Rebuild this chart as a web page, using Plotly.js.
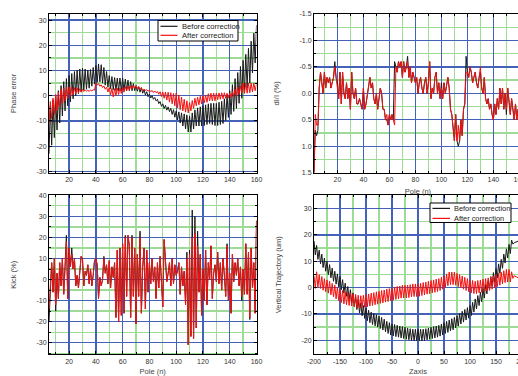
<!DOCTYPE html>
<html><head><meta charset="utf-8">
<script src="https://cdn.plot.ly/plotly-3.0.1.min.js"></script>
<style>html,body{margin:0;padding:0;overflow:hidden;background:#fff}#chart{width:530px;height:376px}</style>
</head><body><div id="chart"></div>
<script>
// ---------- DATA ----------
// Phase error per pole (poles 5..160)
const phasePoleStart = 5;
const phaseBefore = [
-23,-3.9,-19.6,-1.8,-16.6,0,-13.6,2.0,-10.8,4.0,
-8.0,5.6,-6.0,6.8,-4.0,8.0,-2.4,8.8,-1.2,9.6,
0,10.2,0.8,10.6,1.6,11.0,2.2,10.6,2.6,10.2,
3.0,10.4,3.8,11.2,4.6,12.0,5.3,12.6,5.5,12.3,
5.0,11.2,4.2,9.6,3.4,8.0,2.8,7.6,2.4,7.2,
2.0,7.0,2.0,7.0,2.0,7.0,2.0,6.6,2.0,6.2,
2.0,5.6,2.0,4.8,2.0,4.0,1.8,3.6,1.4,3.2,
1.0,2.5,0.3,1.6,-0.4,0.7,-0.9,0.0,-1.4,-0.7,
-2.0,-1.4,-3.1,-2.3,-4.2,-3.2,-5.1,-3.8,-5.7,-4.4,
-6.3,-5.0,-7.4,-5.5,-8.5,-6.0,-9.6,-6.4,-10.8,-6.8,
-12.0,-7.2,-13.2,-7.6,-14.4,-8.0,-14.4,-6.8,-13.2,-5.6,
-12.0,-4.8,-12.0,-4.4,-12.0,-4.0,-11.8,-3.6,-11.4,-3.2,
-11.0,-3.0,-11.4,-3.0,-11.8,-3.0,-11.8,-2.6,-11.4,-2.2,
-11.0,-1.2,-9.8,0.4,-8.6,2.0,-7.4,4.4,-6.2,6.8,
-5.0,9.2,-3.0,11.6,-1.0,14.0,1.0,16.4,3.0,18.8,
5.0,21.6,9.0,24.8,13.0,28.0
];
const phaseAfter = [
-11,-2.3,-9.2,-0.9,-7.4,0.5,-5.8,1.5,-4.4,2.5,
-3.0,3.1,-2.0,3.3,-1.0,3.5,-0.2,3.3,0.4,3.2,
0.8,3.1,1.1,2.8,1.4,2.5,1.7,2.3,1.8,2.2,
1.7,2.3,1.9,2.4,2.2,5.0,4.2,4.8,3.8,4.3,
3.2,3.9,2.6,3.4,1.5,3.2,0.4,2.9,-0.5,2.8,
0.0,3.0,0.5,3.1,0.9,3.2,1.4,3.6,2.0,3.9,
2.2,3.9,2.8,4.0,3.0,4.0,2.9,3.6,2.4,3.2,
2.0,2.6,2.1,2.4,1.8,2.3,1.6,2.1,1.3,1.9,
1.2,1.7,0.6,1.6,-0.3,1.5,-1.0,1.5,-1.7,1.4,
-2.5,1.2,-3.2,0.9,-4.0,1.0,-4.8,0.2,-5.5,-0.5,
-6.0,-1.4,-6.5,-2.0,-6.8,-2.7,-6.0,-1.9,-5.0,-1.0,
-4.0,-0.6,-3.6,-0.2,-3.2,0.0,-2.8,0.2,-2.6,0.8,
-2.0,1.0,-2.0,1.0,-2.0,1.0,-1.6,1.1,-1.4,1.2,
-1.2,1.2,-1.0,1.0,-0.8,1.0,-0.6,1.6,-0.3,2.6,
0.0,3.4,0.6,4.0,1.0,5.0,1.0,5.0,1.0,5.0,
1.2,5.0,1.5,5.0,2.0,4.5
];

// dI/I (%) per pole (poles 2..161)
const dIPoleStart = 2;
const dIBefore = [
1.5,0.7,0.8,0.7,-0.1,-0.4,-0.2,0.0,-0.4,-0.1,
-0.3,-0.2,-0.3,-0.1,-0.2,-0.3,-0.6,-0.3,-0.2,0.1,
-0.4,0.2,-0.4,0.0,0.1,-0.2,0.1,-0.1,0.3,-0.4,
0.0,0.1,-0.1,0.2,0.2,0.1,0.2,0.3,-0.1,0.3,
0.2,0.0,-0.1,-0.3,-0.1,-0.2,0.1,0.2,0.0,0.3,
0.1,-0.1,0.0,0.3,0.3,0.5,0.5,0.6,0.4,0.5,
0.4,0.5,-0.6,-0.5,-0.4,-0.6,-0.5,-0.6,-0.3,-0.6,
-0.4,-0.5,-0.7,-0.3,-0.5,-0.2,-0.4,-0.3,-0.2,-0.3,
0.0,-0.2,-0.3,-0.1,0.0,-0.2,-0.3,0.0,-0.2,-0.6,
0.1,-0.1,0.0,-0.3,-0.4,0.0,-0.2,0.1,-0.2,0.1,
-0.2,0.0,-0.2,-0.3,-0.1,0.3,0.4,0.6,0.9,0.4,
0.9,1.0,0.9,0.5,0.8,0.3,0.2,-0.7,-0.4,-0.3,
-0.5,-0.4,-0.2,-0.3,-0.4,-0.2,-0.1,-0.3,-0.4,-0.1,
0.0,-0.3,0.1,0.2,0.1,0.3,0.2,0.4,0.5,0.2,
0.4,0.1,0.3,-0.1,0.2,-0.1,0.3,0.0,0.4,-0.1,
0.2,0.4,0.1,0.3,0.5,0.2,0.5,0.3,0.6,0.4
];
const dIAfter = [
1.5,0.4,0.6,0.6,-0.1,-0.4,-0.2,0.0,-0.4,-0.1,
-0.3,-0.2,-0.3,-0.1,-0.2,-0.3,-0.5,-0.3,-0.2,0.1,
-0.4,0.2,-0.4,0.0,0.1,-0.2,0.1,-0.1,0.3,-0.4,
0.0,0.1,-0.1,0.2,0.2,0.1,0.2,0.3,-0.1,0.3,
0.2,0.0,-0.1,-0.3,-0.1,-0.2,0.1,0.2,0.0,0.3,
0.1,-0.1,0.0,0.3,0.3,0.5,0.4,0.6,0.4,0.5,
0.4,0.5,0.6,-0.5,-0.4,-0.6,-0.5,-0.6,-0.3,-0.6,
-0.4,-0.5,-0.6,-0.3,-0.5,-0.2,-0.4,-0.3,-0.2,-0.3,
0.0,-0.2,-0.3,-0.1,0.0,-0.2,-0.3,0.0,-0.2,-0.6,
0.1,-0.1,0.0,-0.3,-0.4,0.0,-0.2,0.1,-0.1,0.1,
-0.2,0.0,-0.2,-0.3,-0.1,0.3,0.4,0.6,0.9,0.4,
0.9,0.6,0.9,0.5,0.8,0.3,0.2,-0.4,-0.4,-0.3,
-0.5,-0.4,-0.2,-0.3,-0.4,-0.2,-0.1,-0.3,-0.5,-0.1,
0.0,-0.3,0.1,0.2,0.1,0.3,0.2,0.4,0.5,0.2,
0.4,0.1,0.3,-0.1,0.2,-0.1,0.3,0.0,0.3,-0.1,
0.2,0.4,0.1,0.3,0.5,0.2,0.5,0.3,0.5,0.4
];

// Kick (%) per pole (poles 5..160)
const kickPoleStart = 5;
const kickBefore = [
-20,-5,8,-6,10,-15,3,-9,8,-3,
10,-7,4,21,-9,15,6,15,5,10,
-3,2,-4,6,11,10,-3,4,2,7,
-2,5,-3,2,9,10,7,-9,1,-3,
0,11,3,7,-2,9,-4,6,1,8,
-18,14,-20,15,-17,17,-16,21,-8,21,
16,-18,21,-8,15,-21,12,-8,23,-16,
6,15,-14,14,-6,8,-2,10,-1,6,
-9,8,-4,11,1,-13,19,7,-1,3,
8,-3,10,-2,7,2,4,8,-7,6,
-3,4,-12,13,-31,14,-27,33,-28,30,
-23,23,-6,12,-17,5,-10,14,-12,8,
0,16,-9,3,7,-1,13,-2,8,-5,
10,2,-8,17,-10,3,-16,12,-1,8,
2,10,-3,6,-10,5,-7,17,-7,13,
-19,15,-4,8,-16,28
];
const kickAfter = [
-14,-5,8,-6,10,-12,3,-9,8,-3,
10,-7,4,18,-9,15,6,12,5,10,
-3,2,-4,6,11,10,-3,4,2,7,
-2,5,-3,2,9,10,7,-9,1,-3,
0,10,3,7,-2,9,-4,6,1,8,
-18,14,-20,15,-17,17,-16,20,-8,21,
16,-18,20,-8,15,-21,12,-8,20,-16,
6,15,-14,14,-6,8,-2,10,-1,6,
-9,8,-4,11,1,-13,19,7,-1,3,
8,-3,10,-2,7,2,4,8,-7,6,
-3,4,-12,10,-31,12,-27,20,-28,22,
-23,16,-6,12,-17,5,-10,14,-12,8,
0,16,-9,3,7,-1,13,-2,8,-5,
10,2,-8,16,-10,3,-16,12,-1,8,
2,10,-3,6,-8,5,-7,17,-7,13,
-18,15,-4,8,-16,28
];

// Vertical trajectory (um) vs z (z = -200 .. 200, step 2.5)
const zStart = -200, zStep = 2.5;
const trajBefore = [
17.7,12.4,16.0,10.7,14.2,9.0,12.7,7.6,11.2,6.2,
10.0,4.9,8.7,3.7,7.4,2.4,6.2,1.3,5.2,0.3,
4.2,-0.8,3.0,-2.1,1.7,-3.3,0.4,-4.6,-0.8,-5.8,
-2.0,-7.1,-3.3,-8.3,-4.6,-9.6,-5.8,-10.7,-6.8,-11.7,
-7.8,-12.6,-8.6,-13.3,-9.3,-14.0,-9.8,-14.5,-10.3,-15.0,
-10.8,-15.5,-11.3,-16.1,-12.0,-16.8,-12.8,-17.4,-13.3,-18.0,
-13.8,-18.3,-14.0,-18.6,-14.3,-18.8,-14.6,-19.1,-14.8,-19.3,
-15.0,-19.6,-15.3,-19.8,-15.6,-20.1,-15.8,-20.2,-15.8,-20.2,
-15.8,-20.2,-15.8,-20.2,-15.8,-20.1,-15.6,-19.8,-15.3,-19.6,
-15.0,-19.3,-14.8,-19.1,-14.6,-18.8,-14.3,-18.4,-13.8,-18.0,
-13.3,-17.4,-12.8,-17.0,-12.3,-16.4,-11.8,-16.0,-11.3,-15.3,
-10.6,-14.6,-9.8,-13.8,-9.0,-13.1,-8.3,-12.3,-7.6,-11.6,
-6.8,-10.6,-5.6,-9.3,-4.3,-8.1,-3.0,-6.8,-1.8,-5.4,
-0.3,-4.0,1.2,-2.4,2.7,-1.0,4.2,0.6,5.7,2.0,
7.2,3.7,9.0,5.4,10.7,7.3,12.7,9.3,14.7,11.2,
16.4,12.9,18.0,16.5,17.0,17.3,17.5,17.6,17.8,17.9,
18.0
];
const trajAfter = [
4.4,-0.3,6.0,0.0,4.9,-0.3,4.2,-1.0,3.4,-1.6,
2.9,-2.1,2.4,-2.8,1.6,-3.5,0.9,-4.3,0.1,-5.0,
-0.6,-5.7,-1.1,-6.2,-1.6,-6.5,-1.9,-6.8,-2.1,-7.0,
-2.4,-7.3,-2.6,-7.5,-2.9,-7.8,-3.1,-7.8,-2.9,-7.5,
-2.6,-7.3,-2.4,-7.0,-2.1,-6.8,-1.9,-6.5,-1.6,-6.3,
-1.4,-6.0,-1.1,-5.8,-0.9,-5.5,-0.6,-5.3,-0.4,-5.0,
-0.1,-4.8,0.1,-4.5,0.4,-4.3,0.6,-4.0,0.9,-3.9,
0.9,-3.9,0.9,-3.8,1.1,-3.5,1.4,-3.4,1.4,-3.4,
1.4,-3.3,1.6,-3.0,1.9,-2.8,2.1,-2.5,2.4,-2.3,
2.7,-2.0,2.9,-1.8,3.2,-1.5,3.4,-1.1,3.9,-0.6,
4.4,0.0,5.2,0.7,5.9,1.1,5.9,1.1,5.9,0.9,
5.4,0.4,4.9,-0.1,4.4,-0.6,3.9,-1.1,3.4,-1.6,
2.9,-2.0,2.7,-2.3,2.4,-2.3,2.7,-2.0,2.9,-1.8,
3.2,-1.5,3.4,-1.3,3.7,-1.0,3.9,-0.6,4.4,-0.1,
4.9,0.4,5.4,0.9,5.9,1.4,6.4,1.9,6.9,2.1,
6.9,2.1,6.0,3.5,4.5,4.2,4.0,3.7,3.4,3.2,
3.0
];

// Tick labels
const poleTicks = [20,40,60,80,100,120,140,160];
const poleTickText = ['20','40','60','80','100','120','140','160'];
const phaseTicks = [-30,-20,-10,0,10,20,30];
const phaseTickText = ['-30','-20','-10','0','10','20','30'];
const dITicks = [-1.5,-1.0,-0.5,0.0,0.5,1.0,1.5];
const dITickText = ['-1.5','-1.0','-0.5','0.0','0.5','1.0','1.5'];
const kickTicks = [-30,-20,-10,0,10,20,30,40];
const kickTickText = ['-30','-20','-10','0','10','20','30','40'];
const zTicks = [-200,-150,-100,-50,0,50,100,150,200];
const zTickText = ['-200','-150','-100','-50','0','50','100','150','200'];
const trajTicks = [-20,-10,0,10,20,30];
const trajTickText = ['-20','-10','0','10','20','30'];
const seriesNames = ['Before correction','After correction'];

// ---------- STYLE / LAYOUT ----------
const W = 530, H = 376;
const FONT = 'Liberation Sans, Arial, Helvetica, sans-serif';
const BLACK = '#1a1a1a', RED = '#f51010';
const BLUE = '#4462b8', GREEN = '#9ddb96';
const px = v => v / W, py = v => 1 - v / H;

const colL = [px(49), px(256.5)], colR = [px(314), px(522)];
const rowT = [py(172.7), py(14)], rowB = [py(354.3), py(195.3)];

function ax(extra, minorDtick) {
  return Object.assign({
    showline: true, linecolor: '#000', linewidth: 1, mirror: 'ticks',
    ticks: 'inside', ticklen: 3, tickcolor: '#000', tickwidth: 1,
    showgrid: true, gridcolor: BLUE, gridwidth: 1.3, zeroline: false,
    tickmode: 'array',
    tickfont: {family: FONT, size: 7, color: '#333'},
    minor: {tickmode: 'linear', tick0: 0, dtick: minorDtick, showgrid: true,
            gridcolor: GREEN, gridwidth: 1.3, ticks: 'inside', ticklen: 2, tickcolor: '#000'},
    fixedrange: true
  }, extra);
}
const titleFont = {family: FONT, size: 7.5, color: '#444'};

const traces = [
  {x0: phasePoleStart, dx: 1, y: phaseBefore, xaxis: 'x', yaxis: 'y', type: 'scatter', mode: 'lines', line: {color: BLACK, width: 1}, name: seriesNames[0]},
  {x0: phasePoleStart, dx: 1, y: phaseAfter, xaxis: 'x', yaxis: 'y', type: 'scatter', mode: 'lines', line: {color: RED, width: 1}, name: seriesNames[1]},
  {x0: dIPoleStart, dx: 1, y: dIBefore, xaxis: 'x2', yaxis: 'y2', type: 'scatter', mode: 'lines', line: {color: BLACK, width: 1}, name: seriesNames[0]},
  {x0: dIPoleStart, dx: 1, y: dIAfter, xaxis: 'x2', yaxis: 'y2', type: 'scatter', mode: 'lines', line: {color: RED, width: 1}, name: seriesNames[1]},
  {x0: kickPoleStart, dx: 1, y: kickBefore, xaxis: 'x3', yaxis: 'y3', type: 'scatter', mode: 'lines', line: {color: BLACK, width: 1}, name: seriesNames[0]},
  {x0: kickPoleStart, dx: 1, y: kickAfter, xaxis: 'x3', yaxis: 'y3', type: 'scatter', mode: 'lines', line: {color: RED, width: 1}, name: seriesNames[1]},
  {x0: zStart, dx: zStep, y: trajBefore, xaxis: 'x4', yaxis: 'y4', type: 'scatter', mode: 'lines', line: {color: BLACK, width: 1}, name: seriesNames[0]},
  {x0: zStart, dx: zStep, y: trajAfter, xaxis: 'x4', yaxis: 'y4', type: 'scatter', mode: 'lines', line: {color: RED, width: 1}, name: seriesNames[1]}
];

// hand-drawn legends (box + line samples)
function legendShapes(x0, x1, y0, y1, yl1, yl2, sx0, sx1) {
  return [
    {type: 'rect', xref: 'paper', yref: 'paper', x0: px(x0), x1: px(x1), y0: py(y1), y1: py(y0), line: {color: '#000', width: 1}, fillcolor: '#fff', layer: 'above'},
    {type: 'line', xref: 'paper', yref: 'paper', x0: px(sx0), x1: px(sx1), y0: py(yl1), y1: py(yl1), line: {color: BLACK, width: 1.2}},
    {type: 'line', xref: 'paper', yref: 'paper', x0: px(sx0), x1: px(sx1), y0: py(yl2), y1: py(yl2), line: {color: RED, width: 1.2}}
  ];
}
function legendTexts(tx, yl1, yl2, size) {
  return [
    {xref: 'paper', yref: 'paper', x: px(tx), y: py(yl1), xanchor: 'left', yanchor: 'middle', text: seriesNames[0], showarrow: false, font: {family: FONT, size: size, color: '#222'}},
    {xref: 'paper', yref: 'paper', x: px(tx), y: py(yl2), xanchor: 'left', yanchor: 'middle', text: seriesNames[1], showarrow: false, font: {family: FONT, size: size, color: '#222'}}
  ];
}

const layout = {
  width: W, height: H,
  margin: {l: 0, r: 0, t: 0, b: 0},
  paper_bgcolor: '#fff', plot_bgcolor: '#fff',
  showlegend: false,
  font: {family: FONT, size: 7, color: '#333'},
  xaxis: ax({domain: colL, anchor: 'y', range: [5, 160], tickvals: poleTicks, ticktext: poleTickText}, 10),
  yaxis: ax({domain: rowT, anchor: 'x', range: [-30.5, 32.4], tickvals: phaseTicks, ticktext: phaseTickText,
             title: {text: 'Phase error', font: titleFont, standoff: 18}}, 5),
  xaxis2: ax({domain: colR, anchor: 'y2', range: [2, 162], tickvals: poleTicks, ticktext: poleTickText,
              title: {text: 'Pole (n)', font: titleFont, standoff: 6}}, 10),
  yaxis2: ax({domain: rowT, anchor: 'x2', range: [1.5, -1.5], tickvals: dITicks, ticktext: dITickText,
              title: {text: 'dI/I (%)', font: titleFont, standoff: 18}}, 0.25),
  xaxis3: ax({domain: colL, anchor: 'y3', range: [5, 160], tickvals: poleTicks, ticktext: poleTickText,
              title: {text: 'Pole (n)', font: titleFont, standoff: 8}}, 10),
  yaxis3: ax({domain: rowB, anchor: 'x3', range: [-35.5, 40], tickvals: kickTicks, ticktext: kickTickText,
              title: {text: 'Kick (%)', font: titleFont, standoff: 18}}, 5),
  xaxis4: ax({domain: colR, anchor: 'y4', range: [-200, 200], tickvals: zTicks, ticktext: zTickText,
              title: {text: 'Zaxis', font: titleFont, standoff: 8}}, 25),
  yaxis4: ax({domain: rowB, anchor: 'x4', range: [-25.3, 35], tickvals: trajTicks, ticktext: trajTickText,
              title: {text: 'Vertical Trajectory (um)', font: titleFont, standoff: 18}}, 5),
  shapes: [].concat(
    legendShapes(158, 238, 20.5, 41, 26.3, 35.3, 160.5, 177.5),
    legendShapes(430, 511, 203, 222.5, 208.4, 218.4, 432.5, 450)
  ),
  annotations: [].concat(
    legendTexts(179.5, 26.3, 35.3, 7.6),
    legendTexts(451.5, 208.4, 218.4, 7.4)
  )
};

Plotly.newPlot('chart', traces, layout, {staticPlot: true, displayModeBar: false});
</script>
</body></html>
